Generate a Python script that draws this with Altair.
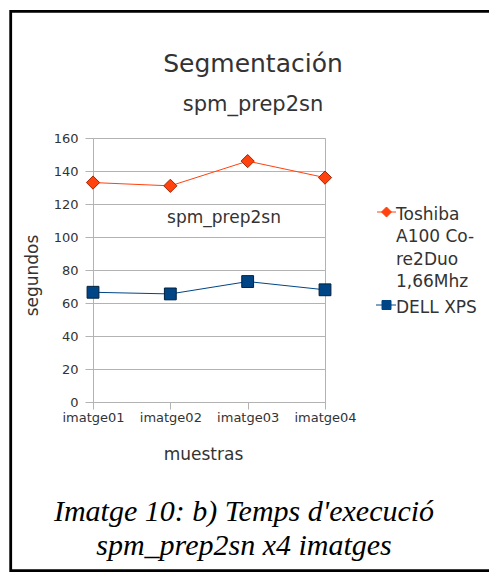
import altair as alt
import pandas as pd

# ---- data ----
samples = ["imatge01", "imatge02", "imatge03", "imatge04"]
series_names = ["Toshiba A100 Co-re2Duo 1,66Mhz", "DELL XPS"]
toshiba = [133, 131, 146, 136]
dell = [66.5, 65.5, 73, 68]
y_ticks = [0, 20, 40, 60, 80, 100, 120, 140, 160]
title_text = ["Segmentación"]
subtitle_text = ["spm_prep2sn"]
inner_text = ["spm_prep2sn"]
caption_lines = ["Imatge 10: b) Temps d'execució", "spm_prep2sn x4 imatges"]
colors = ["#ff420e", "#004586"]
outline = ["#9c2a08", "#00203f"]
marker_shapes = ["diamond", "square"]
marker_sizes = [175, 140]

df = pd.DataFrame({
    "muestra": samples * 2,
    "serie": [series_names[0]] * 4 + [series_names[1]] * 4,
    "segundos": toshiba + dell,
})

W, H = 232, 264
PL, PT = 93, 138
TOTAL_W, TOTAL_H = 489, 572
FONT = "DejaVu Sans"

x_enc = alt.X("muestra:N", sort=samples,
              scale=alt.Scale(type="point", padding=0),
              axis=alt.Axis(title="muestras", titleFont=FONT, titleFontSize=17,
                            titleFontWeight="normal", titleColor="#333333",
                            titleX=110, titleY=52, titleBaseline="middle",
                            labelFont=FONT, labelFontSize=13, labelColor="#333333",
                            labelAngle=0, labelPadding=2, tickSize=7,
                            tickColor="#b3b3b3", domainColor="#b3b3b3",
                            grid=False))
y_enc = alt.Y("segundos:Q", scale=alt.Scale(domain=[0, 160], nice=False),
              axis=alt.Axis(title="segundos", values=y_ticks, titleFont=FONT,
                            titleFontSize=17, titleFontWeight="normal",
                            titleColor="#333333", titleX=-61, titleY=137,
                            titleAngle=-90, titleBaseline="middle", titleAlign="center",
                            labelFont=FONT, labelFontSize=13, labelColor="#333333",
                            labelPadding=7, tickSize=8, tickColor="#b3b3b3",
                            domainColor="#b3b3b3", gridColor="#b3b3b3"))

base = alt.Chart(df)

series_layers = []
for i, name in enumerate(series_names):
    sub = base.transform_filter(alt.datum.serie == name)
    series_layers.append(
        sub.mark_line(strokeWidth=1, color=colors[i]).encode(x=x_enc, y=y_enc))
    series_layers.append(
        sub.mark_point(filled=True, opacity=1, shape=marker_shapes[i],
                       size=marker_sizes[i], fill=colors[i], stroke=outline[i],
                       strokeWidth=1).encode(x=x_enc, y=y_enc))

label_expr = ("datum.label == '" + series_names[0] + "' ? "
              "['Toshiba', 'A100 Co-', 're2Duo', '1,66Mhz'] : datum.label")
legend_shapes = [
    "M-1.9,1.1H-1L0,0.1L1,1.1H1.9M1,1.1L0,2.1L-1,1.1Z",
    "M-2.1,1.1H-0.9V0.2H0.9V1.1H1.9M0.9,1.1V2H-0.9V1.1Z",
]
legend_def = alt.Legend(title=None, orient="none", legendX=285, legendY=60,
                        labelExpr=label_expr, labelFont=FONT,
                        labelFontSize=17, labelColor="#333333",
                        labelLimit=300, labelOffset=1,
                        labelBaseline="top", rowPadding=1,
                        symbolSize=100, symbolStrokeWidth=1)
legend_layer = base.transform_filter("false").mark_point(
    filled=True, opacity=1, strokeWidth=1
).encode(
    x=x_enc, y=y_enc,
    color=alt.Color("serie:N", scale=alt.Scale(domain=series_names, range=colors),
                    legend=legend_def),
    stroke=alt.Stroke("serie:N", scale=alt.Scale(domain=series_names, range=colors),
                      legend=legend_def),
    shape=alt.Shape("serie:N", scale=alt.Scale(domain=series_names, range=legend_shapes),
                    legend=legend_def),
)

title = alt.Chart(pd.DataFrame({"t": title_text})).mark_text(
    font=FONT, fontSize=25, color="#333333", align="center", baseline="alphabetic"
).encode(text="t:N", x=alt.value(160), y=alt.value(72 - PT))

subtitle = alt.Chart(pd.DataFrame({"t": subtitle_text})).mark_text(
    font=FONT, fontSize=21, color="#333333", align="center", baseline="alphabetic"
).encode(text="t:N", x=alt.value(160), y=alt.value(111 - PT))

inner = alt.Chart(pd.DataFrame({"t": inner_text})).mark_text(
    font=FONT, fontSize=17, color="#333333", align="center", baseline="middle"
).encode(text="t:N", x=alt.value(131), y=alt.value(80))

caption = alt.Chart(pd.DataFrame({"k": [0]})).mark_text(
    font="Liberation Serif", fontStyle="italic", fontSize=30, color="#000000",
    align="center", baseline="alphabetic", lineHeight=34, text=caption_lines
).encode(x=alt.value(244 - PL), y=alt.value(521 - PT))

frame = alt.Chart(pd.DataFrame({"k": [0]})).mark_rect(
    fillOpacity=0, stroke="black", strokeWidth=2.8
).encode(x=alt.value(10.7 - PL), x2=alt.value(520 - PL),
         y=alt.value(11.3 - PT), y2=alt.value(TOTAL_H - 1.3 - PT))

chart = alt.layer(
    *series_layers, legend_layer, title, subtitle, inner, caption, frame
).properties(
    width=W, height=H,
    autosize=alt.AutoSizeParams(type="none"),
    padding={"left": PL, "top": PT, "right": TOTAL_W - PL - W,
             "bottom": TOTAL_H - PT - H},
    background="white",
).configure(
    view=alt.ViewConfig(stroke="#b3b3b3", strokeWidth=1),
    style={"guide-label": {"lineHeight": 22.5}},
)

chart.save("out.html", embed_options={"renderer": "svg", "actions": False})
